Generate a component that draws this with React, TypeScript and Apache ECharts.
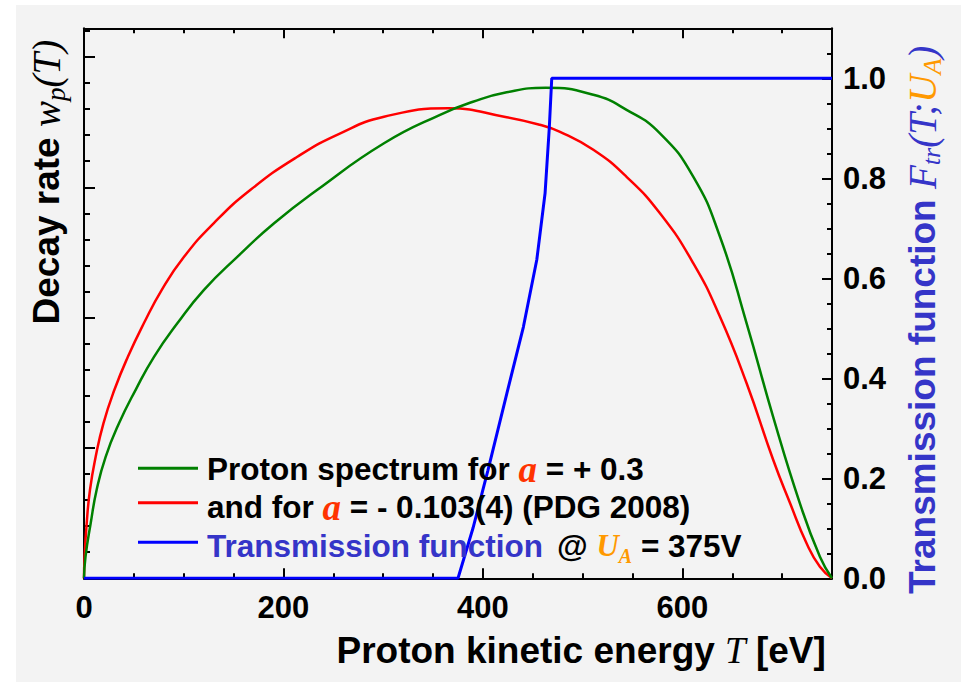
import React, { useEffect, useRef } from "react";
import * as echarts from "echarts";

// ---- data (T in eV, value on the right-hand 0..1.1 scale) ----
const greenT = [0, 1.5, 6.7, 12.7, 21.7, 35.1, 51.8, 70.2, 93.6, 120.3, 153.7, 190.6, 234, 300.8, 357, 390, 423.8, 463, 510.7, 544, 577.5, 611, 637.7, 664.4, 691, 717.8, 737.9, 750];
const greenV = [0, 0.043, 0.11, 0.177, 0.243, 0.31, 0.377, 0.443, 0.51, 0.577, 0.643, 0.71, 0.777, 0.87, 0.927, 0.953, 0.972, 0.981, 0.967, 0.937, 0.89, 0.803, 0.683, 0.51, 0.323, 0.15, 0.043, 0];

const redT = [0, 0.6, 2.7, 6, 11.7, 19.5, 30.5, 44, 60, 78, 100.3, 130, 167, 213.9, 257, 300.8, 365, 423.8, 457, 477.3, 510.7, 544, 577.5, 611, 637.7, 664.4, 691, 708, 724.5, 737.9, 750];
const redV = [0, 0.043, 0.11, 0.177, 0.243, 0.31, 0.377, 0.443, 0.51, 0.577, 0.643, 0.71, 0.777, 0.843, 0.89, 0.923, 0.94, 0.922, 0.907, 0.893, 0.857, 0.803, 0.73, 0.63, 0.523, 0.39, 0.237, 0.15, 0.07, 0.023, 0];

const blueT = [0, 375, 390, 405, 424, 440.6, 454, 462.3, 466.6, 469, 750];
const blueV = [0, 0, 0.1, 0.216, 0.37, 0.503, 0.637, 0.77, 0.903, 1, 1];

// axis ranges / tick steps
const xMin = 0;
const xMax = 750;
const xMajor = 200;
const xMinor = 50;
const rMax = 1.1;
const rMajor = 0.2;
const rMinor = 0.05;
const lMax = 4.22;
const lMajor = 1;
const lMinor = 0.2;

const SANS = "'Liberation Sans', Arial, Helvetica, sans-serif";
const SERIF = "'Liberation Serif', 'Times New Roman', serif";
const BLUE_TXT = "#3535c8";
const ORANGE = "#ff9900";
const A_RED = "#ff3300";

const lineSt = { color: "#000", width: 2 };

function xAxisDef(position: string, interval: number, tickLen: number, showLine: boolean, showLabel: boolean) {
  return {
    type: "value",
    position,
    min: xMin,
    max: xMax,
    interval,
    axisLine: { show: showLine, onZero: false, lineStyle: lineSt },
    axisTick: { show: true, inside: true, length: tickLen, lineStyle: { color: "#000", width: 2 } },
    axisLabel: {
      show: showLabel,
      showMaxLabel: false,
      margin: 14,
      color: "#000",
      fontFamily: SANS,
      fontWeight: "bold",
      fontSize: 31,
    },
    splitLine: { show: false },
  };
}

function yAxisDef(position: string, max: number, interval: number, tickLen: number, showLine: boolean, showLabel: boolean) {
  return {
    type: "value",
    position,
    min: 0,
    max,
    interval,
    axisLine: { show: showLine, onZero: false, lineStyle: lineSt },
    axisTick: { show: true, inside: true, length: tickLen, lineStyle: { color: "#000", width: 2 } },
    axisLabel: {
      show: showLabel,
      showMaxLabel: false,
      margin: 11,
      color: "#000",
      fontFamily: SANS,
      fontWeight: "bold",
      fontSize: 31,
      formatter: (v: number) => v.toFixed(1),
    },
    splitLine: { show: false },
  };
}

const pairs = (t: number[], v: number[]) => t.map((x, i) => [x, v[i]]);

const sansB = (size: number, fill: string) => ({ fontFamily: SANS, fontWeight: "bold", fontSize: size, fill });
const serifI = (size: number, fill: string, bold = false) => ({
  fontFamily: SERIF,
  fontStyle: "italic",
  fontWeight: bold ? "bold" : "normal",
  fontSize: size,
  fill,
});

const LEG = 31.5;

const option: any = {
  animation: false,
  backgroundColor: "#ffffff",
  grid: { left: 84, top: 28.3, width: 748, height: 550, containLabel: false },
  xAxis: [
    xAxisDef("bottom", xMajor, 10, true, true),
    xAxisDef("bottom", xMinor, 5, false, false),
    xAxisDef("top", xMajor, 10, true, false),
    xAxisDef("top", xMinor, 5, false, false),
  ],
  yAxis: [
    yAxisDef("left", lMax, lMajor, 11, true, false),
    yAxisDef("left", lMax, lMinor, 6, false, false),
    yAxisDef("right", rMax, rMajor, 10, true, true),
    yAxisDef("right", rMax, rMinor, 5, false, false),
  ],
  series: [
    {
      type: "line",
      xAxisIndex: 0,
      yAxisIndex: 2,
      data: pairs(redT, redV),
      symbol: "none",
      smooth: 0.5,
      lineStyle: { color: "#ff0000", width: 2.5 },
    },
    {
      type: "line",
      xAxisIndex: 0,
      yAxisIndex: 2,
      data: pairs(greenT, greenV),
      symbol: "none",
      smooth: 0.5,
      lineStyle: { color: "#008000", width: 2.5 },
    },
    {
      type: "line",
      xAxisIndex: 0,
      yAxisIndex: 2,
      data: pairs(blueT, blueV),
      symbol: "none",
      smooth: false,
      lineStyle: { color: "#0000ff", width: 3 },
    },
  ],
  graphic: [
    { type: "rect", z: -10, silent: true, shape: { x: 16, y: 5, width: 945, height: 677 }, style: { fill: "#f3f3f3" } },
    // legend samples
    { type: "line", z: 10, silent: true, shape: { x1: 138, y1: 468.3, x2: 198, y2: 468.3 }, style: { stroke: "#008000", lineWidth: 3 } },
    { type: "line", z: 10, silent: true, shape: { x1: 138, y1: 502.7, x2: 198, y2: 502.7 }, style: { stroke: "#ff0000", lineWidth: 3 } },
    { type: "line", z: 10, silent: true, shape: { x1: 138, y1: 542.3, x2: 198, y2: 542.3 }, style: { stroke: "#0000ff", lineWidth: 3 } },
    {
      type: "text",
      z: 10,
      silent: true,
      x: 207,
      y: 469.1,
      style: {
        text: "{n|Proton spectrum for }{a|a}{n| }{n|= + 0.3}",
        align: "left",
        verticalAlign: "middle",
        rich: { n: sansB(LEG, "#000"), a: serifI(37, A_RED, true) },
      },
    },
    {
      type: "text",
      z: 10,
      silent: true,
      x: 207,
      y: 507.4,
      style: {
        text: "{n|and for }{a|a}{n| }{n|= - 0.103(4) (PDG 2008)}",
        align: "left",
        verticalAlign: "middle",
        rich: { n: sansB(LEG, "#000"), a: serifI(37, A_RED, true) },
      },
    },
    {
      type: "text",
      z: 10,
      silent: true,
      x: 207,
      y: 545.8,
      style: {
        text: "{b|Transmission function}{sp| }{n|@ }{u|U}{s|A}{n| }{n|= 375V}",
        align: "left",
        verticalAlign: "middle",
        rich: {
          n: sansB(LEG, "#000"),
          b: sansB(LEG, BLUE_TXT),
          sp: sansB(50, "#000"),
          u: serifI(31, ORANGE, true),
          s: { ...serifI(20, ORANGE, true), padding: [21, 0, 0, 0], lineHeight: 10 },
        },
      },
    },
    // x axis title
    {
      type: "text",
      z: 10,
      silent: true,
      x: 336.5,
      y: 650.5,
      style: {
        text: "{s|Proton kinetic energy }{i|T}{s| }{s|[eV]}",
        align: "left",
        verticalAlign: "middle",
        rich: { s: sansB(37, "#000"), i: serifI(37, "#000") },
      },
    },
    // left axis title
    {
      type: "text",
      z: 10,
      silent: true,
      x: 46.5,
      y: 324.5,
      rotation: Math.PI / 2,
      style: {
        text: "{d|Decay rate }{w|w}{p|p}{w|(T)}",
        align: "left",
        verticalAlign: "middle",
        rich: {
          d: sansB(37, "#000"),
          w: serifI(39, "#000"),
          p: { ...serifI(27, "#000"), padding: [18, 0, 0, 0], lineHeight: 10 },
        },
      },
    },
    // right axis title
    {
      type: "text",
      z: 10,
      silent: true,
      x: 922,
      y: 594,
      rotation: Math.PI / 2,
      style: {
        text: "{t|Transmission function }{f|F}{fs|tr}{f|(T;}{u|U}{us|A}{f|)}",
        align: "left",
        verticalAlign: "middle",
        rich: {
          t: sansB(37, BLUE_TXT),
          f: serifI(39, BLUE_TXT),
          fs: { ...serifI(26, BLUE_TXT), padding: [18, 0, 0, 0], lineHeight: 10 },
          u: serifI(39, ORANGE),
          us: { ...serifI(26, ORANGE), padding: [20, 0, 0, 0], lineHeight: 10 },
        },
      },
    },
  ],
};

export default function App() {
  const ref = useRef<HTMLDivElement>(null);
  useEffect(() => {
    if (!ref.current) return;
    const chart = echarts.init(ref.current, undefined, { renderer: "svg" });
    chart.setOption(option);
    return () => chart.dispose();
  }, []);
  return <div ref={ref} style={{ position: "absolute", left: 0, top: 0, width: 961, height: 682 }} />;
}
